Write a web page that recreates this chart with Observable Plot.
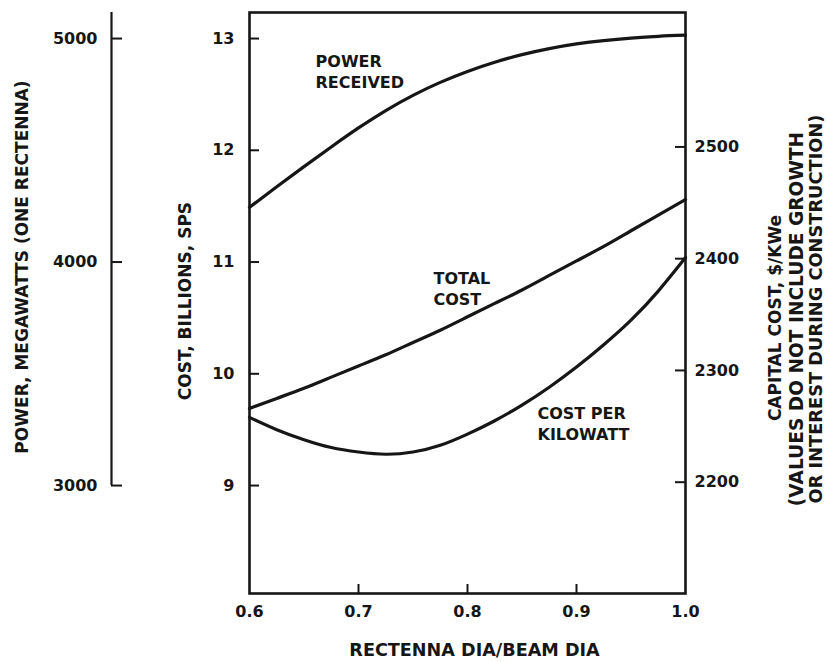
<!DOCTYPE html>
<html>
<head>
<meta charset="utf-8">
<script src="https://cdn.jsdelivr.net/npm/d3@7"></script>
<script src="https://cdn.jsdelivr.net/npm/@observablehq/plot@0.6"></script>
<style>
html, body { margin: 0; padding: 0; background: #fff; }
#chart svg { display: block; }
</style>
</head>
<body>
<div id="chart"></div>
<script>
// ---- data ----
const ratio = [0.6, 0.625, 0.65, 0.675, 0.7, 0.725, 0.75, 0.775, 0.8, 0.825, 0.85, 0.875, 0.9, 0.925, 0.95, 0.975, 1.0];
const powerReceivedMW = [4245, 4337, 4427, 4515, 4600, 4678, 4746, 4804, 4853, 4894, 4928, 4955, 4976, 4991, 5002, 5010, 5015];
const totalCostBillions = [9.69, 9.78, 9.87, 9.97, 10.07, 10.17, 10.28, 10.39, 10.51, 10.63, 10.75, 10.88, 11.01, 11.14, 11.28, 11.42, 11.56];
const costPerKW = [2258, 2247, 2238, 2231, 2227, 2225, 2227, 2233, 2243, 2255, 2269, 2285, 2303, 2323, 2345, 2371, 2401];

const xTicks = [0.6, 0.7, 0.8, 0.9, 1.0];
const costTicks = [9, 10, 11, 12, 13];
const kweTicks = [2200, 2300, 2400, 2500];
const powerTicks = [3000, 4000, 5000];

const labelText = ["POWER\nRECEIVED", "TOTAL\nCOST", "COST PER\nKILOWATT"];
const labelX = [0.6606, 0.7688, 0.8642];
const labelY = [12.709, 10.767, 9.559];

const xTitle = "RECTENNA DIA/BEAM DIA";
const leftTitle = "COST, BILLIONS, SPS";
const powerTitle = "POWER, MEGAWATTS (ONE RECTENNA)";
const rightTitleLines = ["CAPITAL COST, $/KWe", "(VALUES DO NOT INCLUDE GROWTH", "OR INTEREST DURING CONSTRUCTION)"];

// secondary scales expressed in the primary (billions) units
const kweToCost = v => 9 + (v - 2197) / 100;
const mwToCost = v => 9 + (v - 3000) / 500;

// ---- layout ----
const W = 826, H = 662;
const mL = 249, mR = 141, mT = 12, mB = 69;
const frameW = W - mL - mR;
const frameH = H - mT - mB;
const yDomain = [8.034, 13.233];
const ink = "#161616";
const font = "'DejaVu Sans', sans-serif";

const powerSeries = ratio.map((r, i) => ({x: r, y: mwToCost(powerReceivedMW[i])}));
const totalSeries = ratio.map((r, i) => ({x: r, y: totalCostBillions[i]}));
const kwSeries = ratio.map((r, i) => ({x: r, y: kweToCost(costPerKW[i])}));
const labels = labelText.map((t, i) => ({x: labelX[i], y: labelY[i], text: t}));

const lineStyle = {x: "x", y: "y", curve: "natural", stroke: ink, strokeWidth: 3.2, strokeLinecap: "round"};
const rot = {textAnchor: "middle", lineAnchor: "middle", rotate: -90, fill: ink};

const chart = Plot.plot({
  width: W, height: H,
  marginLeft: mL, marginRight: mR, marginTop: mT, marginBottom: mB,
  style: {fontFamily: font, fontWeight: "bold", fontSize: "16px", color: ink, background: "#fff"},
  x: {domain: [0.6, 1.0]},
  y: {domain: yDomain},
  marks: [
    // curves
    Plot.line(powerSeries, lineStyle),
    Plot.line(totalSeries, lineStyle),
    Plot.line(kwSeries, lineStyle),
    // frame
    Plot.frame({stroke: ink, strokeWidth: 2.6}),
    // bottom axis
    Plot.axisX(xTicks, {anchor: "bottom", label: null, tickSize: 0, tickPadding: 12, tickFormat: d => d.toFixed(1), fontSize: 16, fontWeight: "bold", fill: ink}),
    Plot.tickX(xTicks.slice(1, -1), {x: d => d, insetTop: frameH - 9, stroke: ink, strokeWidth: 2}),
    Plot.text([xTitle], {frameAnchor: "bottom", textAnchor: "middle", lineAnchor: "middle", dy: 57, dx: 7, fontSize: 17.6, fill: ink}),
    // left axis (billions)
    Plot.axisY(costTicks, {anchor: "left", label: null, tickSize: 0, tickPadding: 15, tickFormat: d => String(d), fontSize: 16, fontWeight: "bold", fill: ink}),
    Plot.tickY(costTicks, {y: d => d, insetRight: frameW - 10, stroke: ink, strokeWidth: 2}),
    Plot.text([leftTitle], {...rot, frameAnchor: "left", dx: -64, dy: -2, fontSize: 17}),
    // right axis ($/KWe)
    Plot.tickY(kweTicks, {y: kweToCost, insetLeft: frameW - 10, stroke: ink, strokeWidth: 2}),
    Plot.text(kweTicks, {y: kweToCost, text: d => String(d), frameAnchor: "right", textAnchor: "start", dx: 9, fontSize: 16, fill: ink}),
    Plot.text([rightTitleLines[0]], {...rot, frameAnchor: "right", dx: 90, dy: 15, fontSize: 17}),
    Plot.text([rightTitleLines[1]], {...rot, frameAnchor: "right", dx: 112, dy: 16, fontSize: 18.6}),
    Plot.text([rightTitleLines[2]], {...rot, frameAnchor: "right", dx: 131, dy: 6, fontSize: 17.8}),
    // far-left axis (megawatts)
    Plot.ruleX([0], {x: () => 0.6, y1: mwToCost(powerTicks[0]), y2: yDomain[1], dx: -138, stroke: ink, strokeWidth: 2.2}),
    Plot.tickY(powerTicks, {y: mwToCost, insetRight: frameW - 11, dx: -138, stroke: ink, strokeWidth: 2}),
    Plot.text(powerTicks, {y: mwToCost, text: d => String(d), frameAnchor: "left", textAnchor: "end", dx: -152, fontSize: 16, fill: ink}),
    Plot.text([powerTitle], {...rot, frameAnchor: "left", dx: -227, dy: -36, fontSize: 17}),
    // curve labels
    Plot.text(labels, {x: "x", y: "y", text: "text", textAnchor: "start", lineAnchor: "middle", lineHeight: 1.3, fontSize: 16, fill: ink})
  ]
});
document.getElementById("chart").appendChild(chart);
</script>
</body>
</html>
